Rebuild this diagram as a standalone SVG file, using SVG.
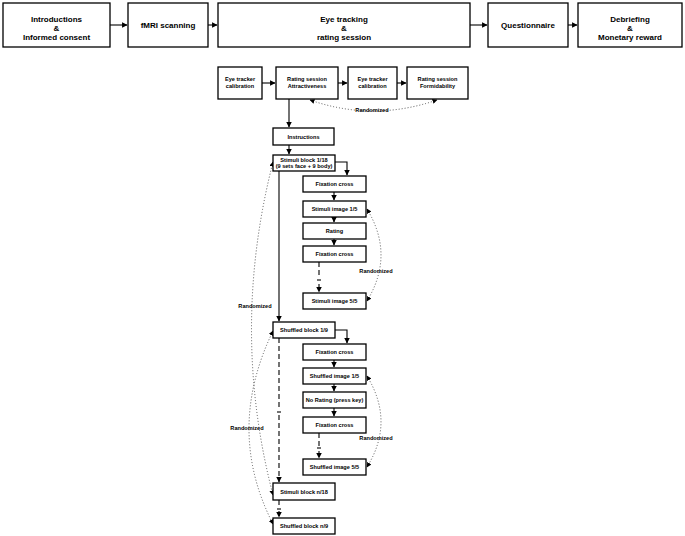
<svg xmlns="http://www.w3.org/2000/svg" width="685" height="536" viewBox="0 0 685 536">
<defs>
<marker id="a" viewBox="0 0 10 10" refX="9" refY="5" markerWidth="5" markerHeight="5" orient="auto-start-reverse"><path d="M0,0L10,5L0,10z" fill="#000"/></marker>
<style>
rect{fill:#fff;stroke:#000;stroke-width:1.3}
.t{font-family:"Liberation Sans",Arial,sans-serif;font-weight:bold;font-size:8px;text-anchor:middle}
.s{font-family:"Liberation Sans",Arial,sans-serif;font-weight:bold;font-size:5.6px;text-anchor:middle}
.c{fill:none;stroke:#000;stroke-width:1.1}
.d{fill:none;stroke:#555;stroke-width:1;stroke-dasharray:1,2}
.k{fill:none;stroke:#000;stroke-width:1.1;stroke-dasharray:5,3}
</style>
</defs>
<g id="connectors">
<path class="c" marker-end="url(#a)" d="M110,25H127"/>
<path class="c" marker-end="url(#a)" d="M208,25H217"/>
<path class="c" marker-end="url(#a)" d="M470,25H487"/>
<path class="c" marker-end="url(#a)" d="M568,25H577"/>
<path class="c" marker-end="url(#a)" d="M262,83H275"/>
<path class="c" marker-end="url(#a)" d="M338,83H347"/>
<path class="c" marker-end="url(#a)" d="M397,83H406"/>
<path class="d" marker-start="url(#a)" marker-end="url(#a)" d="M310,100Q373,122 437,100"/>
<path class="c" marker-end="url(#a)" d="M289,99V127"/>
<path class="c" marker-end="url(#a)" d="M289,145V154"/>
<path class="c" marker-end="url(#a)" d="M335,162H347V175"/>
<path class="c" marker-end="url(#a)" d="M334,192V200"/>
<path class="c" marker-end="url(#a)" d="M334,217V222"/>
<path class="c" marker-end="url(#a)" d="M334,239V245"/>
<path class="k" d="M319,262V276"/>
<path class="c" d="M317,280H321"/>
<path class="k" marker-end="url(#a)" d="M319,284V292"/>
<path class="d" marker-start="url(#a)" marker-end="url(#a)" d="M367,209Q395,255 367,301"/>
<path class="c" marker-end="url(#a)" d="M279,171V321"/>
<path class="c" marker-end="url(#a)" d="M335,330H347V343"/>
<path class="c" marker-end="url(#a)" d="M334,360V367"/>
<path class="c" marker-end="url(#a)" d="M334,384V391"/>
<path class="c" marker-end="url(#a)" d="M334,408V416"/>
<path class="k" d="M319,433V446"/>
<path class="c" d="M317,448H321"/>
<path class="k" marker-end="url(#a)" d="M319,451V458"/>
<path class="d" marker-start="url(#a)" marker-end="url(#a)" d="M367,376Q395,422 367,467"/>
<path class="k" d="M279,338V410"/>
<path class="c" d="M277,412H281"/>
<path class="k" marker-end="url(#a)" d="M279,415V482"/>
<path class="k" d="M279,500V507"/>
<path class="c" d="M277,509H281"/>
<path class="k" marker-end="url(#a)" d="M279,511V517"/>
<path class="d" marker-start="url(#a)" marker-end="url(#a)" d="M273,162Q230,330 273,495"/>
<path class="d" marker-start="url(#a)" marker-end="url(#a)" d="M273,331Q225,430 273,524"/>
</g>
<g id="top"><rect x="3" y="3" width="107" height="44"/><text class="t" x="56.5" y="22">Introductions</text><text class="t" x="56.5" y="31">&amp;</text><text class="t" x="56.5" y="40">Informed consent</text></g>
<g id="fmri"><rect x="128" y="3" width="80" height="44"/><text class="t" x="168" y="28">fMRI scanning</text></g>
<g id="eye"><rect x="218" y="3" width="252" height="44"/><text class="t" x="344" y="22">Eye tracking</text><text class="t" x="344" y="31">&amp;</text><text class="t" x="344" y="40">rating session</text></g>
<g id="quest"><rect x="488" y="3" width="80" height="44"/><text class="t" x="528" y="28">Questionnaire</text></g>
<g id="debrief"><rect x="578" y="3" width="104" height="44"/><text class="t" x="630" y="22">Debriefing</text><text class="t" x="630" y="31">&amp;</text><text class="t" x="630" y="40">Monetary reward</text></g>
<g id="cal1"><rect x="218" y="67" width="44" height="32"/><text class="s" x="240" y="81">Eye tracker</text><text class="s" x="240" y="88">calibration</text></g>
<g id="attr"><rect x="276" y="67" width="62" height="32"/><text class="s" x="307" y="81">Rating session</text><text class="s" x="307" y="88">Attractiveness</text></g>
<g id="cal2"><rect x="348" y="67" width="49" height="32"/><text class="s" x="372.5" y="81">Eye tracker</text><text class="s" x="372.5" y="88">calibration</text></g>
<g id="form"><rect x="407" y="67" width="61" height="32"/><text class="s" x="437.5" y="81">Rating session</text><text class="s" x="437.5" y="88">Formidability</text></g>
<text class="s" x="372" y="112">Randomized</text>
<g id="instr"><rect x="273" y="128" width="61" height="17"/><text class="s" x="303.5" y="138.5">Instructions</text></g>
<g id="sb1"><rect x="273" y="155" width="62" height="16"/><text class="s" x="304" y="161.5">Stimuli block 1/18</text><text class="s" x="304" y="168">(9 sets face + 9 body)</text></g>
<g id="fc1"><rect x="303" y="176" width="63" height="16"/><text class="s" x="334.5" y="186">Fixation cross</text></g>
<g id="si1"><rect x="303" y="201" width="63" height="16"/><text class="s" x="334.5" y="211">Stimuli image 1/5</text></g>
<g id="rat"><rect x="303" y="223" width="63" height="16"/><text class="s" x="334.5" y="233">Rating</text></g>
<g id="fc2"><rect x="303" y="246" width="63" height="16"/><text class="s" x="334.5" y="256">Fixation cross</text></g>
<g id="si5"><rect x="303" y="293" width="63" height="16"/><text class="s" x="334.5" y="303">Stimuli image 5/5</text></g>
<text class="s" x="376" y="273">Randomized</text>
<text class="s" x="255" y="308">Randomized</text>
<g id="shb1"><rect x="273" y="322" width="62" height="16"/><text class="s" x="304" y="332">Shuffled block 1/9</text></g>
<g id="fc3"><rect x="303" y="344" width="63" height="16"/><text class="s" x="334.5" y="354">Fixation cross</text></g>
<g id="shi1"><rect x="303" y="368" width="63" height="16"/><text class="s" x="334.5" y="378">Shuffled image 1/5</text></g>
<g id="nr"><rect x="303" y="392" width="63" height="16"/><text class="s" x="334.5" y="402">No Rating (press key)</text></g>
<g id="fc4"><rect x="303" y="417" width="63" height="16"/><text class="s" x="334.5" y="427">Fixation cross</text></g>
<g id="shi5"><rect x="303" y="459" width="63" height="16"/><text class="s" x="334.5" y="469">Shuffled image 5/5</text></g>
<text class="s" x="376" y="440">Randomized</text>
<text class="s" x="247" y="430">Randomized</text>
<g id="sbn"><rect x="273" y="483" width="62" height="17"/><text class="s" x="304" y="493.5">Stimuli block n/18</text></g>
<g id="shbn"><rect x="273" y="518" width="62" height="16"/><text class="s" x="304" y="528">Shuffled block n/9</text></g>
</svg>
